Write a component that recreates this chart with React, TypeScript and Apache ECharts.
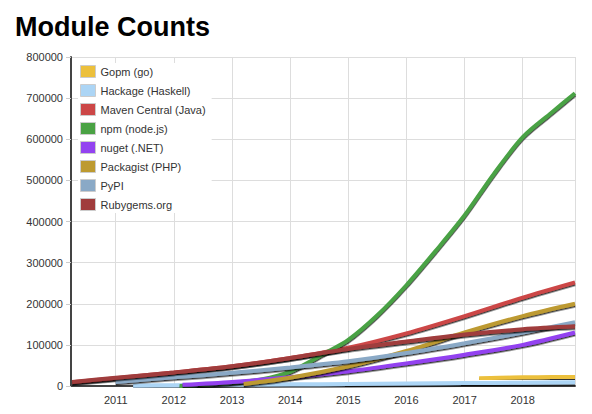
import React, { useEffect, useRef } from 'react'
import * as echarts from 'echarts'

// [decimal year, modules]
const gopm = [[2017.25, 19000], [2017.6, 20000], [2018, 21000], [2018.5, 22000], [2018.9, 22000]]
const hackage = [[2011.3, 1000], [2012, 2000], [2013, 3000], [2014, 4000], [2015, 5000], [2016, 6000], [2017, 7000], [2018, 8000], [2018.9, 9000]]
const maven = [[2010.25, 9000], [2011, 19000], [2012, 33000], [2013, 48000], [2014, 68000], [2015, 93000], [2016, 128000], [2017, 170000], [2018, 215000], [2018.9, 252000]]
const npm = [[2012.1, 0], [2012.5, 3000], [2013, 8000], [2013.5, 16000], [2014, 35000], [2014.6, 80000], [2015, 112000], [2015.5, 172000], [2016, 245000], [2016.5, 328000], [2017, 415000], [2017.5, 515000], [2018, 605000], [2018.5, 665000], [2018.9, 712000]]
const nuget = [[2012.15, 3000], [2013, 10000], [2014, 21000], [2015, 36000], [2016, 55000], [2017, 76000], [2018, 100000], [2018.9, 130000]]
const packagist = [[2013.2, 5000], [2014, 20000], [2015, 48000], [2016, 85000], [2017, 130000], [2018, 170000], [2018.9, 200000]]
const pypi = [[2011, 10000], [2012, 21000], [2013, 32000], [2014, 45000], [2015, 60000], [2016, 80000], [2017, 104000], [2018, 130000], [2018.9, 155000]]
const rubygems = [[2010.25, 10000], [2011, 20000], [2012, 33000], [2013, 48000], [2014, 68000], [2015, 90000], [2016, 108000], [2017, 125000], [2018, 138000], [2018.9, 145000]]

const seriesDefs: [string, number[][], string][] = [
  ['Gopm (go)', gopm, '#ecc03c'],
  ['Hackage (Haskell)', hackage, '#acd5f5'],
  ['Maven Central (Java)', maven, '#cc4747'],
  ['npm (node.js)', npm, '#4aa244'],
  ['nuget (.NET)', nuget, '#9343f0'],
  ['Packagist (PHP)', packagist, '#bd9a30'],
  ['PyPI', pypi, '#8aa9c6'],
  ['Rubygems.org', rubygems, '#a03c3c'],
]

const toTime = (y: number) => {
  const yr = Math.floor(y)
  const s = Date.UTC(yr, 0, 1)
  const e = Date.UTC(yr + 1, 0, 1)
  return s + (y - yr) * (e - s)
}

export default function App() {
  const ref = useRef<HTMLDivElement>(null)
  useEffect(() => {
    if (!ref.current) return
    const chart = echarts.init(ref.current, undefined, { renderer: 'svg' })
    chart.setOption({
      animation: false,
      title: {
        text: 'Module Counts', left: 2, top: 0,
        textStyle: { fontFamily: 'Liberation Sans', fontSize: 27, fontWeight: 'bold', color: '#000' },
      },
      grid: { left: 63, right: 9, top: 49, bottom: 20 },
      legend: {
        orient: 'vertical', left: 70, top: 55, itemWidth: 15, itemHeight: 12, itemGap: 6,
        icon: 'rect', backgroundColor: '#fff', padding: [2, 6, 2, 2],
        textStyle: { fontFamily: 'Liberation Sans', fontSize: 11, color: '#333' },
        itemStyle: { borderColor: '#ccc', borderWidth: 1 },
        data: seriesDefs.map(d => d[0]),
      },
      xAxis: {
        type: 'time', min: toTime(2010.23), max: toTime(2018.9),
        axisLine: { show: true, lineStyle: { color: '#444', width: 2 } },
        axisTick: { show: false },
        splitLine: { show: true, lineStyle: { color: '#ddd' } },
        axisLabel: {
          fontFamily: 'Liberation Sans', fontSize: 11, color: '#333',
          formatter: (v: number) => String(new Date(v).getUTCFullYear()),
        },
      },
      yAxis: {
        type: 'value', min: 0, max: 800000, interval: 100000,
        axisLine: { show: true, lineStyle: { color: '#444', width: 2 } },
        axisTick: { show: true, lineStyle: { color: '#ccc' } },
        splitLine: { lineStyle: { color: '#ddd' } },
        axisLabel: { fontFamily: 'Liberation Sans', fontSize: 11, color: '#333', formatter: (v: number) => String(v) },
      },
      series: seriesDefs.map(([name, d, color]) => ({
        name, type: 'line', showSymbol: false, smooth: 0.3, color,
        lineStyle: { width: 4, color, shadowColor: 'rgba(0,0,0,0.8)', shadowBlur: 1, shadowOffsetY: 1.5 },
        data: d.map(([y, v]) => [toTime(y), v]),
      })),
    })
    return () => chart.dispose()
  }, [])
  return <div ref={ref} style={{ width: 576, height: 398 }} />
}
